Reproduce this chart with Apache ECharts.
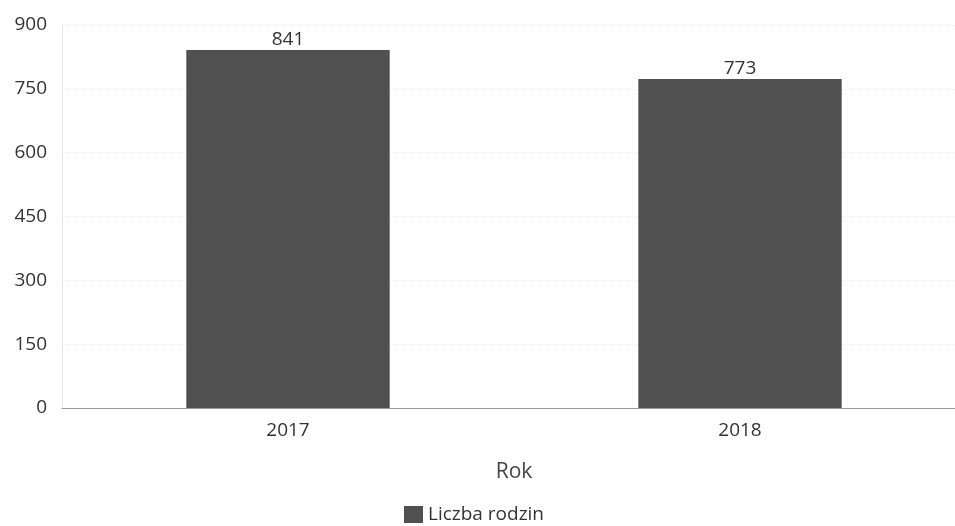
<!DOCTYPE html>
<html>
<head>
<meta charset="utf-8">
<script src="https://cdn.jsdelivr.net/npm/echarts@6/dist/echarts.min.js"></script>
<style>
  html, body { margin: 0; padding: 0; background: #fff; overflow: hidden; }
  #chart { width: 966px; height: 526px; }
</style>
</head>
<body>
<div id="chart"></div>
<script>
  // dane
  const years = ['2017', '2018']
  const families = [841, 773]
  const yTicks = [0, 150, 300, 450, 600, 750, 900]

  const chart = echarts.init(document.getElementById('chart'))
  chart.setOption({
    animation: false,
    textStyle: { fontFamily: 'Open Sans' },
    // wykres w oryginale wychodzi lekko poza prawą krawędź
    grid: { top: 25, left: 62, right: 0, height: 383 },
    legend: {
      top: 500,
      left: 399,
      itemWidth: 19,
      itemHeight: 17,
      itemGap: 5,
      icon: 'rect',
      textStyle: { fontSize: 19, color: '#333', fontFamily: 'Open Sans' },
      data: ['Liczba rodzin']
    },
    xAxis: {
      type: 'category',
      data: years,
      name: 'Rok',
      nameLocation: 'middle',
      nameGap: 54,
      nameTextStyle: { fontSize: 21, color: '#444' },
      axisLine: { lineStyle: { color: '#999', width: 1 } },
      axisTick: { show: false },
      axisLabel: { fontSize: 19, color: '#333', margin: 13 }
    },
    yAxis: {
      type: 'value',
      min: yTicks[0],
      max: yTicks[yTicks.length - 1],
      interval: 150,
      axisLine: { show: true, lineStyle: { color: '#ddd', type: 'dotted' } },
      axisTick: { show: false },
      axisLabel: { fontSize: 19, color: '#333', margin: 15 },
      splitLine: { lineStyle: { color: '#eee', type: 'dotted' } }
    },
    series: [{
      name: 'Liczba rodzin',
      type: 'bar',
      data: families,
      barWidth: '45%',
      itemStyle: { color: '#505050' },
      label: {
        show: true,
        position: 'top',
        distance: 1,
        fontSize: 19,
        color: '#333'
      }
    }]
  })
</script>
</body>
</html>
